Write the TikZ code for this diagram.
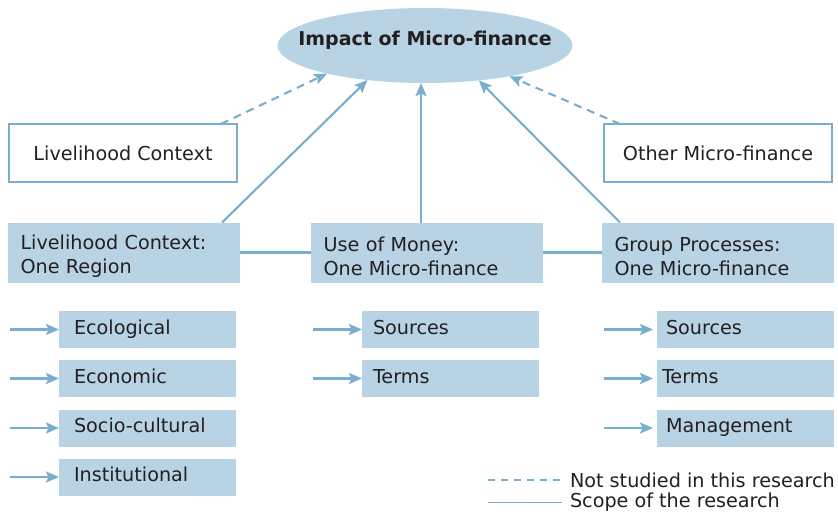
\documentclass[tikz,border=0pt]{standalone}
\usepackage{fontspec}
\setmainfont{DejaVu Sans}
\usetikzlibrary{arrows.meta,shapes.geometric}
\definecolor{boxblue}{RGB}{184,212,228}
\definecolor{lineblue}{RGB}{122,174,206}
\definecolor{txt}{RGB}{35,31,32}
\newcommand{\fs}{\fontsize{19.2pt}{24pt}\selectfont}
\newcommand{\topstrut}{\rule{0pt}{21.5pt}}
\newcommand{\boxstrut}{\rule[-5pt]{0pt}{19pt}}
\tikzset{
  x=1pt, y=-1pt,
  every node/.style={text=txt, font=\fs, outer sep=0pt},
  bigbox/.style={fill=boxblue, anchor=north west, minimum height=60pt, text width=207pt, inner xsep=12.5pt, inner ysep=0pt, align=left},
  whitebox/.style={draw=lineblue, line width=2pt, fill=white, anchor=north west, minimum height=58pt, minimum width=228pt, inner sep=0pt, align=center},
  smallbox/.style={fill=boxblue, anchor=north west, minimum height=37pt, text width=#1, inner ysep=0pt, align=left},
  conn/.style={draw=lineblue, line width=2.1pt},
  arr/.style={conn, -{Stealth[length=13pt,width=11pt,inset=2.5pt]}},
  darr/.style={arr, dash pattern=on 8pt off 6pt},
}
\begin{document}
\begin{tikzpicture}
\useasboundingbox (0,0) rectangle (838,517);
% top ellipse
\node[ellipse, fill=boxblue, minimum width=295pt, minimum height=75pt, inner sep=0pt] (impact) at (425,45.5)
  {\smash{\makebox[0pt]{\fontsize{19pt}{24pt}\selectfont\bfseries Impact of Micro-finance}}};
% white boxes
\node[whitebox] (lc) at (9,124) {Livelihood Context};
\node[whitebox] (om) at (604,124) {Other Micro-finance};
% main blue boxes
\node[bigbox] (lcr) at (8,222.5) {\topstrut Livelihood Context:\\One Region};
\node[bigbox] (use) at (311,222.5) {\topstrut Use of Money:\\One Micro-finance};
\node[bigbox] (grp) at (602,222.5) {\topstrut Group Processes:\\One Micro-finance};
% horizontal links
\draw[conn] (lcr.east) -- (use.west);
\draw[conn] (use.east) -- (grp.west);
% arrows to impact
\draw[arr] ([xshift=-18pt]lcr.north east) -- (impact.211);
\coordinate (m0) at ([xshift=-6pt]use.north);
\draw[arr] (m0) -- (m0 |- impact.south);
\draw[arr] ([xshift=18pt]grp.north west) -- (impact.327);
\draw[darr] ([xshift=-16pt]lc.north east) -- (impact.196);
\draw[darr] ([xshift=16pt]om.north west) -- (impact.340);
% left column
\node[smallbox=147pt, inner xsep=15pt] (eco) at (59,311) {\boxstrut Ecological};
\node[smallbox=147pt, inner xsep=15pt] (econ) at (59,360) {\boxstrut Economic};
\node[smallbox=147pt, inner xsep=15pt] (soc) at (59,409.5) {\boxstrut Socio-cultural};
\node[smallbox=147pt, inner xsep=15pt] (inst) at (59,458.5) {\boxstrut Institutional};
\foreach \n in {eco,econ,soc,inst}
  \draw[arr] ([xshift=-49pt]\n.west) -- (\n.west);
% middle column
\node[smallbox=155pt, inner xsep=11pt] (src1) at (362,311) {\boxstrut Sources};
\node[smallbox=155pt, inner xsep=11pt] (trm1) at (362,360) {\boxstrut Terms};
\foreach \n in {src1,trm1}
  \draw[arr] ([xshift=-49pt]\n.west) -- (\n.west);
% right column
\node[smallbox=159pt, inner xsep=9pt] (src2) at (657,311) {\boxstrut Sources};
\node[smallbox=167pt, inner xsep=5pt] (trm2) at (657,360) {\boxstrut Terms};
\node[smallbox=159pt, inner xsep=9pt] (mgt) at (657,409.5) {\boxstrut Management};
\foreach \n in {src2,trm2,mgt}
  \draw[arr] ([xshift=-53pt]\n.west) -- ([xshift=-4pt]\n.west);
% legend
\node[anchor=west, inner sep=0pt] (lg1) at (570,480) {Not studied in this research};
\node[anchor=west, inner sep=0pt] (lg2) at (570,502.5) {Scope of the research};
\coordinate (lg1s) at (488,480);
\coordinate (lg2s) at (488,502.5);
\draw[conn, line width=1.6pt, dash pattern=on 7pt off 6pt] (lg1s) -- ([xshift=-8pt]lg1.west);
\draw[conn, line width=1.6pt] (lg2s) -- ([xshift=-8pt]lg2.west);
\end{tikzpicture}
\end{document}
